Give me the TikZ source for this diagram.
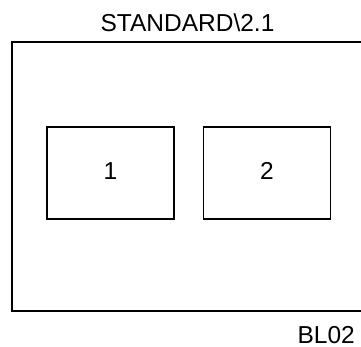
\documentclass[tikz,border=0pt]{standalone}
\usepackage{fontspec}
\setmainfont{Liberation Sans}
\begin{document}
\begin{tikzpicture}[x=1pt,y=-1pt,
  box/.style={draw,line width=1.5pt,minimum width=127pt,minimum height=92pt,inner sep=0pt,text depth=4pt,font=\fontsize{24.5}{29}\selectfont},
  lbl/.style={inner sep=0pt,font=\fontsize{24.5}{29}\selectfont}]
\useasboundingbox (0,0) rectangle (361,347);
\clip (0,0) rectangle (361,347);
\draw[line width=1.6pt] (375,42) -- (12,42) -- (12,311) -- (375,311);
\node[lbl,anchor=base] (title) at (187.5,32) {STANDARD\textbackslash 2.1};
\node[box] (b1) at (110.5,173) {1};
\node[box] (b2) at (267,173) {2};
\node[lbl,anchor=base east] (bl) at (355,343) {BL02};
\end{tikzpicture}
\end{document}
